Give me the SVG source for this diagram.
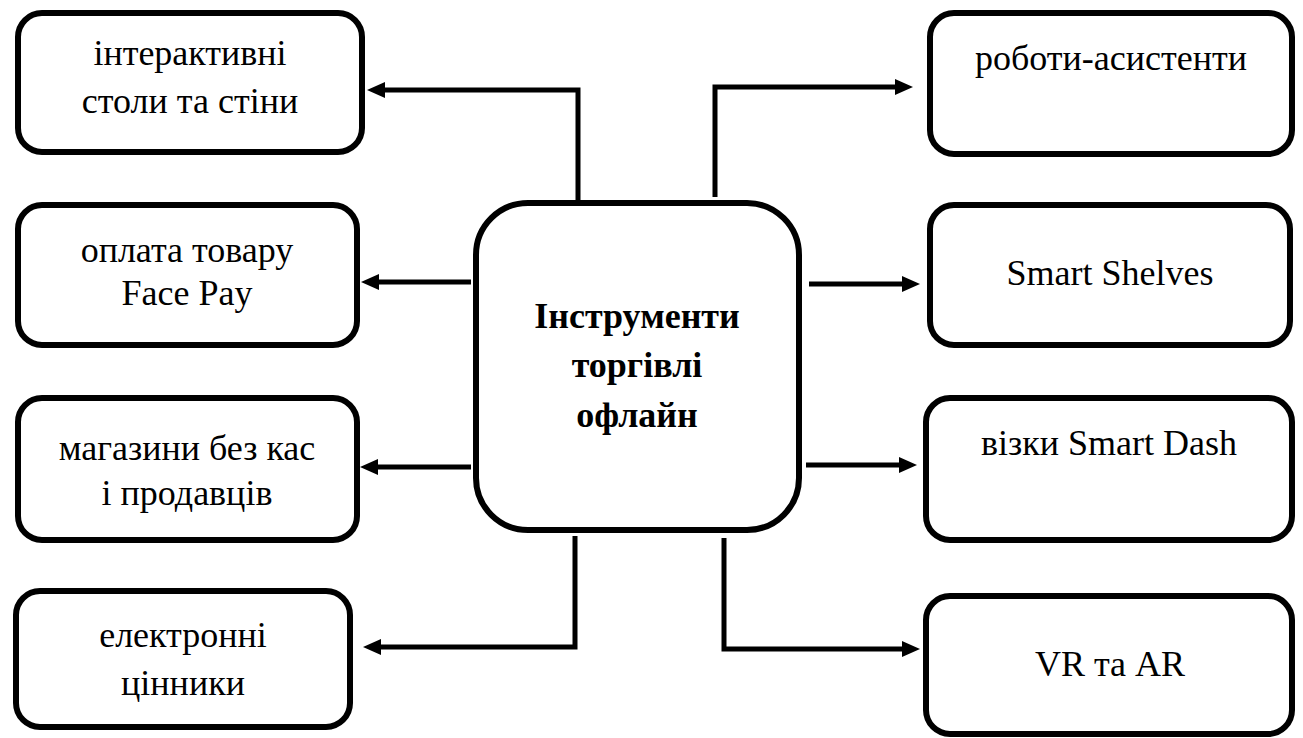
<svg xmlns="http://www.w3.org/2000/svg" width="1303" height="738" viewBox="0 0 1303 738">
<style>
.box{fill:#fff;stroke:#000;stroke-width:6}
text{font-family:'Liberation Serif','Tinos','DejaVu Serif',serif;font-size:36px;fill:#000;text-anchor:middle}
.b{font-weight:bold}
.c{fill:none;stroke:#000;stroke-width:5;stroke-linejoin:miter}
</style>
<defs>
<marker id="ah" markerUnits="userSpaceOnUse" viewBox="0 0 18 16" markerWidth="18" markerHeight="16" refX="8" refY="8" orient="auto">
<path d="M0,0 L18,8 L0,16 z" fill="#000"/>
</marker>
</defs>
<rect width="1303" height="738" fill="#fff"/>
<g id="connectors">
<path class="c" d="M578,200 V90 H377" marker-end="url(#ah)"/>
<path class="c" d="M715,197 V87 H903" marker-end="url(#ah)"/>
<path class="c" d="M471,282 H371" marker-end="url(#ah)"/>
<path class="c" d="M809,284 H910" marker-end="url(#ah)"/>
<path class="c" d="M471,467 H370" marker-end="url(#ah)"/>
<path class="c" d="M806,465 H907" marker-end="url(#ah)"/>
<path class="c" d="M575,536 V647 H373" marker-end="url(#ah)"/>
<path class="c" d="M724,538 V649 H910" marker-end="url(#ah)"/>
</g>
<g id="center">
<rect class="box" x="476" y="203" width="323" height="327" rx="52"/>
<text class="b" x="637" y="328" font-family="Liberation Serif, DejaVu Serif, serif">Інструменти</text>
<text class="b" x="637" y="377" font-family="Liberation Serif, DejaVu Serif, serif">торгівлі</text>
<text class="b" x="637" y="427" font-family="Liberation Serif, DejaVu Serif, serif">офлайн</text>
</g>
<g id="n-interactive">
<rect class="box" x="18" y="13" width="344" height="139" rx="24"/>
<text x="190" y="65">інтерактивні</text>
<text x="190" y="113">столи та стіни</text>
</g>
<g id="n-facepay">
<rect class="box" x="18" y="205" width="339" height="140" rx="24"/>
<text x="187" y="262">оплата товару</text>
<text x="187" y="305">Face Pay</text>
</g>
<g id="n-stores">
<rect class="box" x="18" y="398" width="339" height="142" rx="24"/>
<text x="187" y="460">магазини без кас</text>
<text x="187" y="505">і продавців</text>
</g>
<g id="n-labels">
<rect class="box" x="16" y="591" width="334" height="136" rx="24"/>
<text x="183" y="647">електронні</text>
<text x="183" y="695">цінники</text>
</g>
<g id="n-robots">
<rect class="box" x="930" y="13" width="362" height="141" rx="24"/>
<text x="1111" y="70">роботи-асистенти</text>
</g>
<g id="n-shelves">
<rect class="box" x="930" y="205" width="360" height="140" rx="24"/>
<text x="1110" y="285">Smart Shelves</text>
</g>
<g id="n-carts">
<rect class="box" x="926" y="398" width="366" height="142" rx="24"/>
<text x="1109" y="455">візки Smart Dash</text>
</g>
<g id="n-vrar">
<rect class="box" x="926" y="596" width="366" height="138" rx="24"/>
<text x="1110" y="676">VR та AR</text>
</g>
</svg>
